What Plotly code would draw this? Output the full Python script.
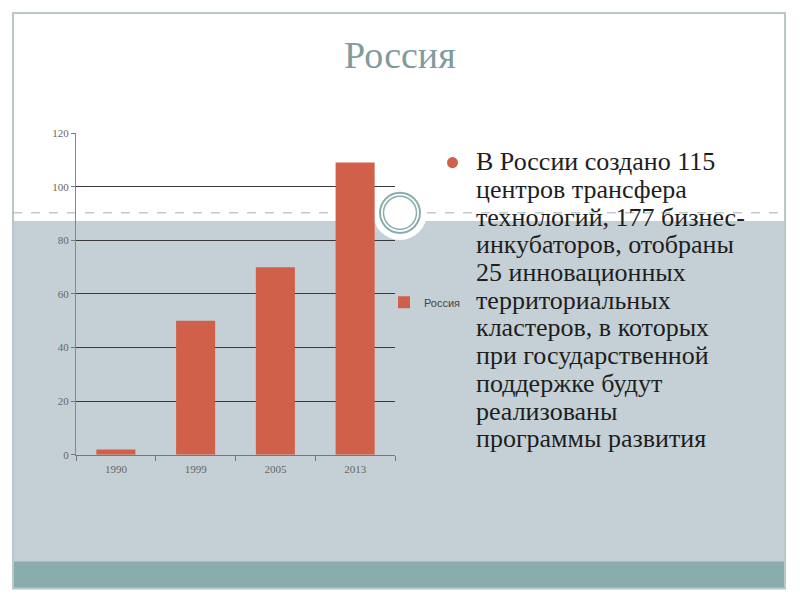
import plotly.graph_objects as go

# данные диаграммы
years = ['1990', '1999', '2005', '2013']
values = [2, 50, 70, 109]
series_name = 'Россия'
y_ticks = [0, 20, 40, 60, 80, 100, 120]

title_text = 'Россия'
bullet_lines = [
    'В России создано 115',
    'центров трансфера',
    'технологий, 177 бизнес-',
    'инкубаторов, отобраны',
    '25 инновационных',
    'территориальных',
    'кластеров, в которых',
    'при государственной',
    'поддержке будут',
    'реализованы',
    'программы развития',
]

W, H = 800, 600
# поправка по вертикали (снимок окна чуть сжимается по высоте)
Y_SHIFT, Y_SCALE = 6, 0.976


def px_x(x):
    return x / W


def px_y(y):
    return 1 - ((y - Y_SHIFT) / Y_SCALE) / H


BAR_COLOR = '#d0604a'
TEAL = '#8aacad'
GRAY_BG = '#c5d0d6'

fig = go.Figure()
fig.add_trace(go.Bar(x=years, y=values, name=series_name,
                     marker=dict(color=BAR_COLOR, line=dict(width=0)),
                     showlegend=True))

shapes = [
    # серая подложка нижней части слайда
    dict(type='rect', xref='paper', yref='paper', layer='below',
         x0=px_x(13), x1=px_x(785), y0=px_y(559), y1=px_y(220),
         fillcolor=GRAY_BG, line=dict(width=0)),
    # бирюзовая полоса внизу
    dict(type='rect', xref='paper', yref='paper', layer='below',
         x0=px_x(13), x1=px_x(785), y0=px_y(586), y1=px_y(559),
         fillcolor=TEAL, line=dict(width=0)),
    # рамка слайда
    dict(type='rect', xref='paper', yref='paper', layer='below',
         x0=px_x(13), x1=px_x(785), y0=px_y(586), y1=px_y(13),
         fillcolor='rgba(0,0,0,0)', line=dict(color='#b8c8c8', width=2)),
    # пунктир
    dict(type='line', xref='paper', yref='paper', layer='below',
         x0=px_x(13), x1=px_x(785), y0=px_y(212), y1=px_y(212),
         line=dict(color='#9ab2b2', width=1, dash='dash')),
    # кружок-украшение
    dict(type='circle', xref='paper', yref='paper', layer='below',
         x0=px_x(373), x1=px_x(427), y0=px_y(239), y1=px_y(185),
         fillcolor='white', line=dict(width=0)),
    dict(type='circle', xref='paper', yref='paper', layer='below',
         x0=px_x(380), x1=px_x(420), y0=px_y(232), y1=px_y(192),
         fillcolor='white', line=dict(color=TEAL, width=2)),
    dict(type='circle', xref='paper', yref='paper', layer='below',
         x0=px_x(383.5), x1=px_x(416.5), y0=px_y(228.5), y1=px_y(195.5),
         fillcolor='white', line=dict(color=TEAL, width=1.5)),
    # маркер списка
    dict(type='circle', xref='paper', yref='paper',
         x0=px_x(447), x1=px_x(458), y0=px_y(167.5), y1=px_y(156.5),
         fillcolor=BAR_COLOR, line=dict(width=0)),
]

annotations = [
    dict(text=title_text, xref='paper', yref='paper', x=px_x(400), y=px_y(55),
         xanchor='center', yanchor='middle', showarrow=False,
         font=dict(family='Liberation Serif', size=38, color='#7f9c9c')),
]
line_pitch = 27.6
for i, line in enumerate(bullet_lines):
    annotations.append(dict(
        text=line, xref='paper', yref='paper',
        x=px_x(474), y=px_y(161 + i * line_pitch),
        xanchor='left', yanchor='middle', showarrow=False,
        font=dict(family='Liberation Serif', size=26, color='#1e1e1e')))

fig.update_layout(
    width=W, height=H,
    margin=dict(l=0, r=0, t=0, b=0),
    paper_bgcolor='white',
    plot_bgcolor='rgba(0,0,0,0)',
    bargap=0.51,
    shapes=shapes,
    annotations=annotations,
    legend=dict(x=px_x(384), y=px_y(301), xanchor='left', yanchor='middle',
                bgcolor='rgba(0,0,0,0)',
                font=dict(family='Liberation Sans', size=11, color='#444')),
    xaxis=dict(domain=[px_x(76), px_x(395)], showgrid=False,
               showline=True, linecolor='#777', linewidth=1,
               ticks='outside', tickson='boundaries', ticklen=5, tickcolor='#777',
               ticklabelstandoff=4,
               tickfont=dict(family='Liberation Serif', size=11, color='#666')),
    yaxis=dict(domain=[px_y(453), px_y(132)], range=[0, 120.2],
               tickvals=y_ticks, showgrid=True, gridcolor='#3a3a3a', gridwidth=1,
               showline=True, linecolor='#888', linewidth=1, zeroline=False,
               ticks='outside', ticklen=4, tickcolor='#777',
               tickfont=dict(family='Liberation Serif', size=11, color='#666')),
)

# убрать стандартный отступ страницы, чтобы фигура заняла всё окно
fig.write_html('out.html', config={'displayModeBar': False},
               post_script="document.body.style.margin='0';"
                           "document.body.style.overflow='hidden';")
